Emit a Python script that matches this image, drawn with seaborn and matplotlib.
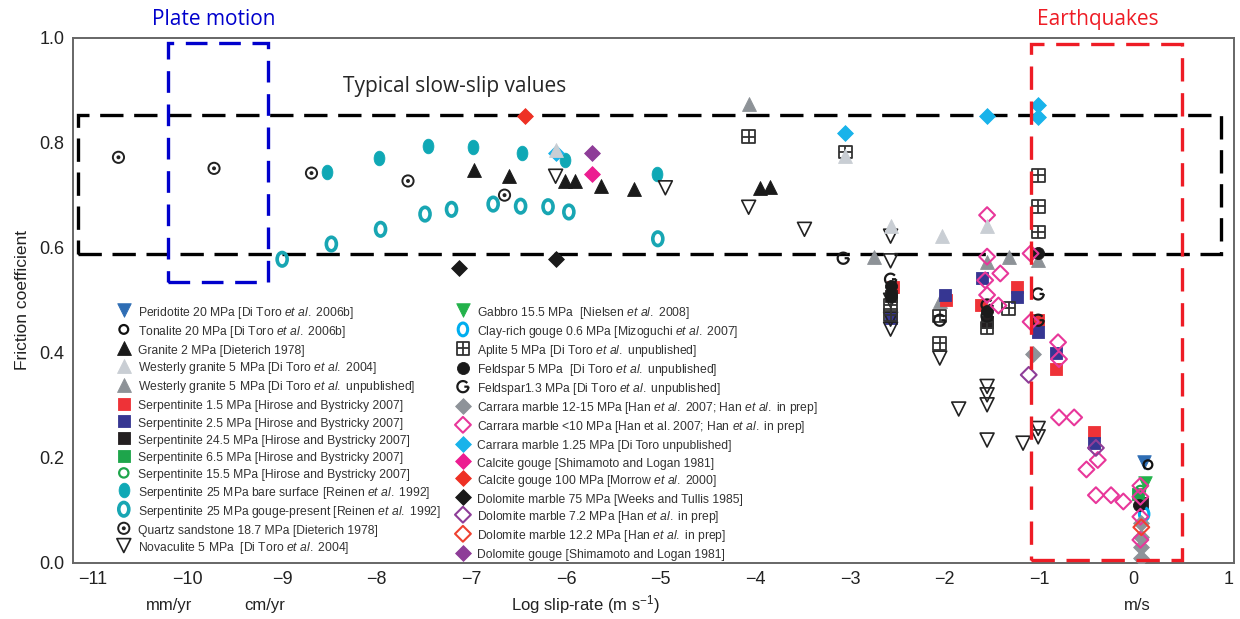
import numpy as np
import pandas as pd
import seaborn as sns
import matplotlib.pyplot as plt
from matplotlib.path import Path
from matplotlib.transforms import Affine2D
from matplotlib.patches import Rectangle
from matplotlib import font_manager

# ================= DATA (log slip-rate, friction coefficient) =================
peridotite_x = [0.11]
peridotite_y = [0.192]
tonalite_x = [0.15]
tonalite_y = [0.187]
granite_x = [-6.97, -6.60, -6.01, -5.91, -5.63, -5.28, -3.95, -3.84]
granite_y = [0.747, 0.736, 0.726, 0.727, 0.717, 0.711, 0.713, 0.715]
westerly04_x = [-6.11, -3.05, -2.57, -2.03, -1.55]
westerly04_y = [0.785, 0.775, 0.642, 0.623, 0.642]
westerlyu_x = [-4.07, -2.75, -2.05, -1.55, -1.32, -1.01]
westerlyu_y = [0.873, 0.583, 0.499, 0.573, 0.583, 0.577]
serp1_5_x = [-2.54, -1.98, -1.61, -1.23, -1.01, -0.82, -0.42]
serp1_5_y = [0.525, 0.500, 0.491, 0.526, 0.462, 0.370, 0.249]
serp2_5_x = [-2.57, -2.00, -1.60, -1.23, -1.01, -0.82, -0.42]
serp2_5_y = [0.466, 0.510, 0.542, 0.507, 0.440, 0.399, 0.228]
serp24_5_x = [-2.57, -1.55, 0.09]
serp24_5_y = [0.508, 0.458, 0.114]
serp6_5_x = [0.05]
serp6_5_y = [0.131]
serp15_5_x = [0.07]
serp15_5_y = [0.138]
bare_x = [-8.53, -7.98, -7.46, -6.98, -6.47, -6.01, -5.04]
bare_y = [0.745, 0.771, 0.794, 0.791, 0.781, 0.767, 0.740]
gouge_x = [-9.00, -8.48, -7.96, -7.49, -7.21, -6.77, -6.48, -6.19, -5.97, -5.03]
gouge_y = [0.578, 0.607, 0.635, 0.664, 0.673, 0.683, 0.679, 0.678, 0.668, 0.617]
quartz_x = [-10.73, -9.72, -8.69, -7.67, -6.65]
quartz_y = [0.772, 0.751, 0.742, 0.727, 0.700]
novaculite_x = [-6.11, -4.95, -4.07, -3.48, -2.57, -2.57, -2.57, -2.57, -2.57,
                -2.05, -1.85, -1.55, -1.55, -1.55, -1.55, -1.17, -1.01, -1.01]
novaculite_y = [0.736, 0.714, 0.677, 0.635, 0.622, 0.575, 0.500, 0.464, 0.445,
                0.390, 0.293, 0.336, 0.320, 0.301, 0.234, 0.228, 0.256, 0.240]
gabbro_x = [0.12]
gabbro_y = [0.152]
clay_x = [0.11]
clay_y = [0.093]
aplite_x = [-4.07, -3.05, -2.57, -2.57, -2.05, -2.05, -1.55, -1.32, -1.01, -1.01, -1.01]
aplite_y = [0.811, 0.782, 0.491, 0.472, 0.470, 0.418, 0.447, 0.485, 0.738, 0.679, 0.630]
feldspar5_x = [-2.57, -2.57, -1.55, -1.01, 0.06]
feldspar5_y = [0.527, 0.508, 0.480, 0.589, 0.110]
feldspar13_x = [-3.07, -2.57, -2.05, -1.55, -1.55, -1.01, -1.01]
feldspar13_y = [0.580, 0.540, 0.462, 0.491, 0.470, 0.512, 0.462]
carrara1215_x = [-1.07, 0.08, 0.08, 0.08, 0.08]
carrara1215_y = [0.398, 0.076, 0.050, 0.031, 0.010]
carrara10_x = [-1.55, -1.55, -1.41, -1.57, -1.55, -1.43, -1.09, -1.09, -0.80, -0.79,
               -0.79, -0.63, -0.38, -0.50, -0.40, -0.24, -0.11, 0.07, 0.07, 0.07, 0.07]
carrara10_y = [0.662, 0.583, 0.551, 0.538, 0.510, 0.490, 0.589, 0.459, 0.420, 0.388,
               0.277, 0.277, 0.196, 0.178, 0.129, 0.129, 0.117, 0.147, 0.126, 0.088, 0.044]
carrara125_x = [-6.11, -3.05, -1.55, -1.01, -1.01]
carrara125_y = [0.781, 0.819, 0.850, 0.872, 0.849]
calcite_x = [-5.73]
calcite_y = [0.740]
calcite100_x = [-6.43]
calcite100_y = [0.851]
dol75_x = [-7.13, -6.11]
dol75_y = [0.562, 0.578]
dol72_x = [-1.11, -0.40]
dol72_y = [0.358, 0.219]
dol122_x = [0.08]
dol122_y = [0.068]
dolgouge_x = [-5.73]
dolgouge_y = [0.780]

x_ticks = list(range(-11, 2))
y_ticks = [0.0, 0.2, 0.4, 0.6, 0.8, 1.0]

# ================= STYLE =================
sns.set_theme(style="white")
installed = {f.name for f in font_manager.fontManager.ttflist}
narrow = "Liberation Sans Narrow" if "Liberation Sans Narrow" in installed else "Liberation Sans"
plt.rcParams["font.family"] = ["Liberation Sans", "DejaVu Sans"]
plt.rcParams["mathtext.fontset"] = "custom"
plt.rcParams["mathtext.rm"] = "Liberation Sans"
plt.rcParams["mathtext.it"] = "Liberation Sans:italic"

# custom markers
ellipse = Path.unit_circle().transformed(Affine2D().scale(0.74, 1.0))
circled_dot = Path.make_compound_path(
    Path.unit_circle(), Path.unit_circle().transformed(Affine2D().scale(0.18)))
box_cross = Path(
    [(-1, -1), (1, -1), (1, 1), (-1, 1), (-1, -1), (0, -1), (0, 1), (-1, 0), (1, 0)],
    [Path.MOVETO, Path.LINETO, Path.LINETO, Path.LINETO, Path.CLOSEPOLY,
     Path.MOVETO, Path.LINETO, Path.MOVETO, Path.LINETO])
g_mark = Path.make_compound_path(Path.arc(40, 360), Path([(1, 0), (0.25, 0)]))

fig = plt.figure(figsize=(12.4, 6.19), dpi=100)
ax = fig.add_axes([0.0589, 0.0905, 0.9363, 0.8489])


def pts(xs, ys, label, marker, color, s, filled=True, lw=0.6, z=3):
    df = pd.DataFrame({"x": xs, "y": ys})
    if filled:
        sns.scatterplot(data=df, x="x", y="y", ax=ax, marker=marker, s=s,
                        color=color, edgecolor=color, linewidth=lw,
                        label=label, zorder=z)
    else:
        sns.scatterplot(data=df, x="x", y="y", ax=ax, marker=marker, s=s,
                        color=color, facecolor="none", edgecolor=color,
                        linewidth=lw, label=label, zorder=z)


ET = r"$\it{et\ al.}$"
pts(peridotite_x, peridotite_y, f"Peridotite 20 MPa [Di Toro {ET} 2006b]", "v", "#2e6db4", 95)
pts(tonalite_x, tonalite_y, f"Tonalite 20 MPa [Di Toro {ET} 2006b]", "o", "#111111", 40, False, 1.6)
pts(granite_x, granite_y, "Granite 2 MPa [Dieterich 1978]", "^", "#1a1a1a", 100)
pts(westerly04_x, westerly04_y, f"Westerly granite 5 MPa [Di Toro {ET} 2004]", "^", "#c9ced4", 100, z=3.5)
pts(westerlyu_x, westerlyu_y, f"Westerly granite 5 MPa [Di Toro {ET} unpublished]", "^", "#8d9297", 100)
pts(serp1_5_x, serp1_5_y, "Serpentinite 1.5 MPa [Hirose and Bystricky 2007]", "s", "#ee3237", 80)
pts(serp2_5_x, serp2_5_y, "Serpentinite 2.5 MPa [Hirose and Bystricky 2007]", "s", "#363692", 80)
pts(serp24_5_x, serp24_5_y, "Serpentinite 24.5 MPa [Hirose and Bystricky 2007]", "s", "#231f20", 80)
pts(serp6_5_x, serp6_5_y, "Serpentinite 6.5 MPa [Hirose and Bystricky 2007]", "s", "#1ea54b", 80)
pts(serp15_5_x, serp15_5_y, "Serpentinite 15.5 MPa [Hirose and Bystricky 2007]", "o", "#1ea54b", 45, False, 1.6)
pts(bare_x, bare_y, f"Serpentinite 25 MPa bare surface [Reinen {ET} 1992]", ellipse, "#0fa8b5", 110)
pts(gouge_x, gouge_y, f"Serpentinite 25 MPa gouge-present [Reinen {ET} 1992]", ellipse, "#18a6b3", 95, False, 2.6)
pts(quartz_x, quartz_y, "Quartz sandstone 18.7 MPa [Dieterich 1978]", circled_dot, "#222222", 65, False, 1.4)
pts(novaculite_x, novaculite_y, f"Novaculite 5 MPa  [Di Toro {ET} 2004]", "v", "#222222", 100, False, 1.2)
pts(gabbro_x, gabbro_y, f"Gabbro 15.5 MPa  [Nielsen {ET} 2008]", "v", "#23b24b", 95)
pts(clay_x, clay_y, f"Clay-rich gouge 0.6 MPa [Mizoguchi {ET} 2007]", ellipse, "#00aeef", 85, False, 2.2)
pts(aplite_x, aplite_y, f"Aplite 5 MPa [Di Toro {ET} unpublished]", box_cross, "#333333", 85, False, 1.3)
pts(feldspar5_x, feldspar5_y, f"Feldspar 5 MPa  [Di Toro {ET} unpublished]", "o", "#1a1a1a", 75)
pts(feldspar13_x, feldspar13_y, f"Feldspar1.3 MPa [Di Toro {ET} unpublished]", g_mark, "#1a1a1a", 65, False, 1.6)
pts(carrara1215_x, carrara1215_y, f"Carrara marble 12-15 MPa [Han {ET} 2007; Han {ET} in prep]", "D", "#8e9399", 65)
pts(carrara10_x, carrara10_y, f"Carrara marble <10 MPa [Han et al. 2007; Han {ET} in prep]", "D", "#e8379a", 65, False, 1.5)
pts(carrara125_x, carrara125_y, "Carrara marble 1.25 MPa [Di Toro unpublished]", "D", "#19b3ea", 65)
pts(calcite_x, calcite_y, "Calcite gouge [Shimamoto and Logan 1981]", "D", "#ec1e91", 65)
pts(calcite100_x, calcite100_y, f"Calcite gouge 100 MPa [Morrow {ET} 2000]", "D", "#ee3124", 65)
pts(dol75_x, dol75_y, "Dolomite marble 75 MPa [Weeks and Tullis 1985]", "D", "#1a1a1a", 65)
pts(dol72_x, dol72_y, f"Dolomite marble 7.2 MPa [Han {ET} in prep]", "D", "#8e3d98", 65, False, 1.5)
pts(dol122_x, dol122_y, f"Dolomite marble 12.2 MPa [Han {ET} in prep]", "D", "#ef4130", 65, False, 1.5)
pts(dolgouge_x, dolgouge_y, "Dolomite gouge [Shimamoto and Logan 1981]", "D", "#8e3d98", 65)

# ---------------- Boxes ----------------
ax.add_patch(Rectangle((-11.16, 0.588), 12.08, 0.265, fill=False, ec="black",
                       lw=2.4, ls=(0, (7, 3.2)), zorder=2, clip_on=False))
ax.add_patch(Rectangle((-10.21, 0.535), 1.06, 0.455, fill=False, ec="#0000cc",
                       lw=2.4, ls=(0, (6.5, 3.5)), zorder=2, clip_on=False))
ax.add_patch(Rectangle((-1.09, 0.005), 1.595, 0.983, fill=False, ec="#ee1c25",
                       lw=2.4, ls=(0, (7, 3.5)), zorder=4, clip_on=False))

ax.text(-7.18, 0.906, "Typical slow-slip values", fontsize=15, family="Open Sans",
        ha="center", va="center")
fig.text(0.172, 0.969, "Plate motion", fontsize=15, family="Open Sans",
         color="#0000cc", ha="center", va="center")
fig.text(0.885, 0.969, "Earthquakes", fontsize=15, family="Open Sans",
         color="#ee1c25", ha="center", va="center")

# ---------------- Axes ----------------
ax.set_xlim(-11.21, 1.06)
ax.set_ylim(0, 1.0)
ax.set_xticks(x_ticks)
ax.set_yticks(y_ticks)
ax.set_yticklabels([f"{v:.1f}" for v in y_ticks])
ax.tick_params(direction="in", length=5, width=1, colors="#555555",
               labelcolor="#222222", labelsize=13, pad=6)
for lab in ax.get_xticklabels() + ax.get_yticklabels():
    lab.set_family(narrow)
for sp in ax.spines.values():
    sp.set_color("#666666")
    sp.set_linewidth(1.4)

ax.set_xlabel("")
ax.set_ylabel("Friction coefficient", fontsize=12.5, family=narrow, color="#222222")
ax.yaxis.set_label_coords(-0.037, 0.5)

xt = ax.get_xaxis_transform()
ax.text(-5.80, -0.08, r"Log slip-rate (m s$^{-1}$)", transform=xt, fontsize=12,
        family=narrow, ha="center", va="center", color="#222222")
ax.text(-10.19, -0.08, "mm/yr", transform=xt, fontsize=12, family=narrow,
        ha="center", va="center", color="#222222")
ax.text(-9.18, -0.08, "cm/yr", transform=xt, fontsize=12, family=narrow,
        ha="center", va="center", color="#222222")
ax.text(0.04, -0.08, "m/s", transform=xt, fontsize=12, family=narrow,
        ha="center", va="center", color="#222222")

# ---------------- Legend (two columns) ----------------
handles, labels = ax.get_legend_handles_labels()
common = dict(loc="upper left", bbox_transform=fig.transFigure, frameon=False,
              fontsize=8.7, labelspacing=0.24, handleheight=1.45,
              handletextpad=0.5, borderpad=0, borderaxespad=0,
              handlelength=1.3, labelcolor="#333333")
leg1 = ax.legend(handles[:14], labels[:14], bbox_to_anchor=(0.0935, 0.508), **common)
ax.add_artist(leg1)
ax.legend(handles[14:], labels[14:], bbox_to_anchor=(0.367, 0.508), **common)

plt.savefig("out.png", dpi=100)
plt.close()
